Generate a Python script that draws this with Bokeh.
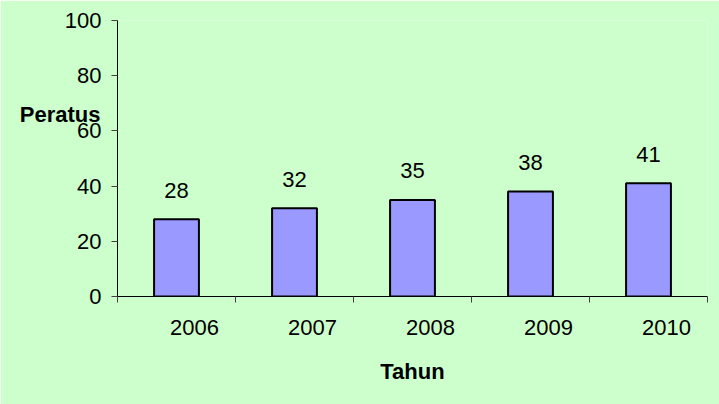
from bokeh.plotting import figure
from bokeh.models import (Range1d, FixedTicker, ColumnDataSource, LabelSet,
                          LinearAxis)
from bokeh.core.properties import value
from bokeh.embed import file_html
from bokeh.resources import INLINE

# ---- data ----
years = ["2006", "2007", "2008", "2009", "2010"]
values = [28, 32, 35, 38, 41]
y_ticks = [0, 20, 40, 60, 80, 100]
x_title = "Tahun"
y_title = "Peratus"
y_title_at = 66  # vertical position of the y title (in data units)

BG = "#CCFFCC"
BAR = "#9999FF"
FONT = "Liberation Sans"
FS = "22px"

n = len(years)
xc = [i + 0.5 for i in range(n)]
src = ColumnDataSource(dict(x=xc, top=values, year=years,
                            vlab=[str(v) for v in values]))

p = figure(width=719, height=404,
           x_range=Range1d(0, n), y_range=Range1d(0, 100),
           output_backend="svg", toolbar_location=None,
           min_border_left=117, min_border_right=12,
           min_border_top=20, min_border_bottom=108)
p.background_fill_color = BG
p.border_fill_color = BG
p.outline_line_color = None
p.xgrid.visible = False
p.ygrid.visible = False

p.vbar(x="x", top="top", width=0.38, bottom=0, source=src,
       fill_color=BAR, line_color="black", line_width=2)

# ---- y axis ----
ya = p.yaxis[0]
ya.ticker = FixedTicker(ticks=y_ticks)
ya.major_tick_in = 0
ya.major_tick_out = 6
ya.minor_tick_line_color = None
ya.major_tick_line_color = "#404040"
ya.axis_line_color = "black"
ya.major_label_text_font = FONT
ya.major_label_text_font_size = FS
ya.major_label_text_color = "black"
ya.major_label_standoff = 10

# y title as a single-tick axis overlapping the tick-label column
yt = LinearAxis(ticker=FixedTicker(ticks=[y_title_at]),
                major_label_overrides={y_title_at: y_title},
                major_tick_in=0, major_tick_out=0,
                major_tick_line_color=None, minor_tick_line_color=None,
                axis_line_color=None,
                major_label_text_font=FONT, major_label_text_font_size=FS,
                major_label_text_font_style="bold",
                major_label_text_color="black",
                major_label_standoff=-39)
p.add_layout(yt, "left")

# ---- x axis: tick marks at category boundaries (no labels) ----
xa = p.xaxis[0]
xa.ticker = FixedTicker(ticks=list(range(n + 1)))
xa.major_label_text_font_size = "1px"
xa.major_label_text_color = None
xa.major_label_standoff = 0
xa.major_tick_in = 0
xa.major_tick_out = 6
xa.minor_tick_line_color = None
xa.major_tick_line_color = "#404040"
xa.axis_line_color = "black"

# ---- x axis: year labels (shifted right of bar centres, as in original) ----
shift = 18 / 118.0
yr = [int(y) for y in years]
p.extra_x_ranges = {"lab": Range1d(yr[0] - 0.5 - shift, yr[-1] + 0.5 - shift)}
xl = LinearAxis(x_range_name="lab", ticker=FixedTicker(ticks=yr),
                major_label_overrides={y: s for y, s in zip(yr, years)},
                major_tick_in=0, major_tick_out=0,
                major_tick_line_color=None, minor_tick_line_color=None,
                axis_line_color=None,
                major_label_text_font=FONT, major_label_text_font_size=FS,
                major_label_text_color="black",
                major_label_standoff=17,
                axis_label=x_title, axis_label_text_font=FONT,
                axis_label_text_font_size=FS,
                axis_label_text_font_style="bold",
                axis_label_text_color="black",
                axis_label_standoff=21)
p.add_layout(xl, "below")

# value labels above bars
p.add_layout(LabelSet(x="x", y="top", text="vlab", source=src,
                      y_offset=29, text_align="center", text_baseline="middle",
                      text_font=value(FONT), text_font_size=value(FS),
                      text_color="black"))

open("out.html", "w").write(file_html(p, INLINE))
